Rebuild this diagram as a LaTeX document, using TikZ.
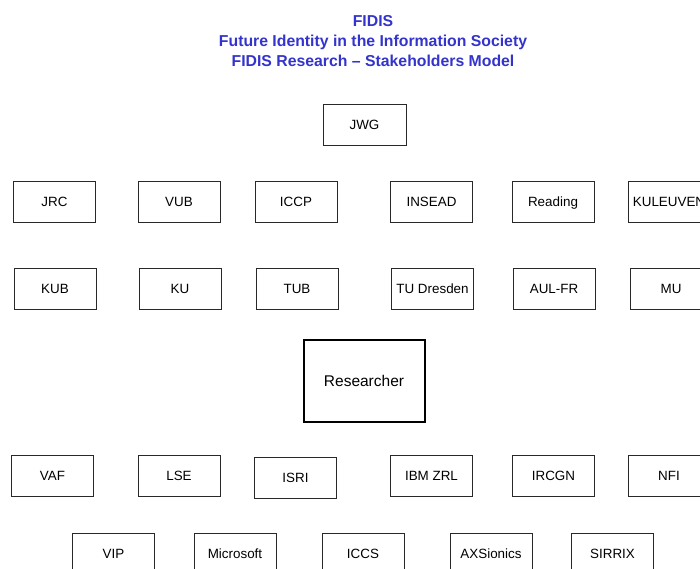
\documentclass[tikz,border=0pt]{standalone}
\usepackage{fontspec}
\setmainfont{Liberation Sans}
\definecolor{titleblue}{RGB}{52,52,204}
\definecolor{boxline}{RGB}{40,40,40}
\begin{document}
\begin{tikzpicture}[x=1pt,y=-1pt,
  box/.style={draw=boxline,line width=0.8pt,minimum width=82pt,minimum height=41pt,inner sep=0pt,
    font=\fontsize{13.4}{15}\selectfont,text height=9.6pt,text depth=0pt,align=center},
  bigbox/.style={draw=black,line width=2pt,minimum width=121pt,minimum height=82pt,inner sep=0pt,
    font=\fontsize{15.5}{18}\selectfont,text height=11.1pt,text depth=0pt},
  ttl/.style={text=titleblue,font=\fontsize{15.8}{19}\selectfont\bfseries,anchor=base,inner sep=0pt}]
\useasboundingbox (0,0) rectangle (700,568);
\clip (0,0) rectangle (700,568);
\fill[white] (0,0) rectangle (700,568);
% title
\node[ttl] (t1) at (373,26.7) {FIDIS};
\node[ttl] (t2) at (373,46.7) {Future Identity in the Information Society};
\node[ttl] (t3) at (373,66.2) {FIDIS Research -- Stakeholders Model};
% top
\node[box,minimum width=83pt] (jwg) at (364.5,124.5) {JWG};
% row 1
\node[box] (jrc) at (54.5,201.5) {JRC};
\node[box] (vub) at (179,201.5) {VUB};
\node[box] (iccp) at (296,201.5) {ICCP};
\node[box] (insead) at (431.5,201.5) {INSEAD};
\node[box] (reading) at (553,201.5) {Reading};
\node[box] (kuleuven) at (669,201.5) {KULEUVEN};
% row 2
\node[box] (kub) at (55,288.5) {KUB};
\node[box] (ku) at (180,288.5) {KU};
\node[box] (tub) at (297,288.5) {TUB};
\node[box] (tud) at (432.5,288.5) {TU Dresden};
\node[box] (aul) at (554,288.5) {AUL-FR};
\node[box] (mu) at (671,288.5) {MU};
% center
\node[bigbox] (res) at (364,380.5) {Researcher};
% row 3
\node[box] (vaf) at (52.5,475.5) {VAF};
\node[box] (lse) at (179,475.5) {LSE};
\node[box] (isri) at (295.5,477.5) {ISRI};
\node[box] (ibm) at (431.5,475.5) {IBM ZRL};
\node[box] (ircgn) at (553.5,475.5) {IRCGN};
\node[box] (nfi) at (669,475.5) {NFI};
% row 4
\node[box] (vip) at (113.5,553.5) {VIP};
\node[box] (ms) at (235,553.5) {Microsoft};
\node[box] (iccs) at (363,553.5) {ICCS};
\node[box] (axs) at (491,553.5) {AXSionics};
\node[box] (sirrix) at (612.5,553.5) {SIRRIX};
\end{tikzpicture}
\end{document}
